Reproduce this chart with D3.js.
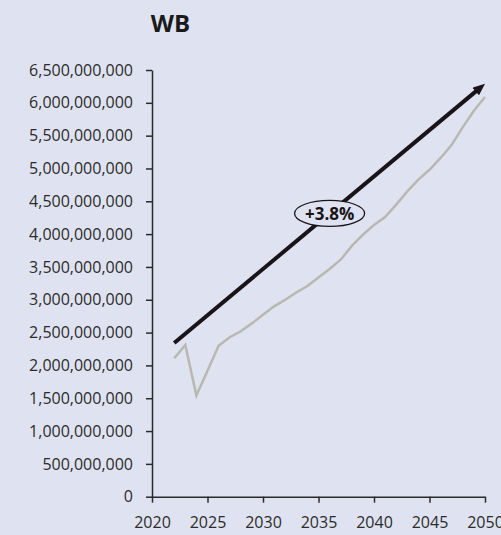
<!DOCTYPE html>
<html>
<head>
<meta charset="utf-8">
<script src="https://cdn.jsdelivr.net/npm/d3@7"></script>
<style>
  html, body { margin: 0; padding: 0; background: #dfe3f1; }
  svg { display: block; }
</style>
</head>
<body>
<div id="chart"></div>
<script>
const title = 'WB';
const years = [2022, 2023, 2024, 2025, 2026, 2027, 2028, 2029, 2030, 2031, 2032, 2033, 2034, 2035, 2036,
  2037, 2038, 2039, 2040, 2041, 2042, 2043, 2044, 2045, 2046, 2047, 2048, 2049, 2050];
const values = [2.11e9, 2.31e9, 1.54e9, 1.92e9, 2.30e9, 2.43e9, 2.52e9, 2.64e9, 2.77e9, 2.90e9, 3.00e9, 3.11e9,
  3.21e9, 3.34e9, 3.47e9, 3.61e9, 3.82e9, 3.99e9, 4.14e9, 4.26e9, 4.45e9, 4.65e9, 4.83e9, 4.98e9, 5.16e9,
  5.36e9, 5.63e9, 5.88e9, 6.09e9];
const trendYears = [2022, 2050];
const trendValues = [2.34e9, 6.29e9];
const trendLabel = '+3.8%';
const xTicks = [2020, 2025, 2030, 2035, 2040, 2045, 2050];
const yTicks = [0, 5e8, 1e9, 1.5e9, 2e9, 2.5e9, 3e9, 3.5e9, 4e9, 4.5e9, 5e9, 5.5e9, 6e9, 6.5e9];

const width = 501;
const height = 535;
const bg = '#dfe3f1';
const font = '"Open Sans", "Noto Sans", sans-serif';

const svg = d3
  .select('#chart')
  .append('svg')
  .attr('width', width)
  .attr('height', height)
  .style('background', bg);

const x = d3.scaleLinear().domain([2020, 2050]).range([152, 485]);
const y = d3.scaleLinear().domain([0, 6.5e9]).range([496.7, 70]);

// Title
svg
  .append('text')
  .attr('x', 170.5)
  .attr('y', 32)
  .attr('text-anchor', 'middle')
  .style('font-family', font)
  .style('font-weight', 'bold')
  .style('font-size', '24px')
  .style('fill', '#1a1a1a')
  .text(title);

// Axes
const yAxis = svg
  .append('g')
  .attr('transform', `translate(${x(2020)},0)`)
  .call(d3.axisLeft(y).tickValues(yTicks).tickFormat(d3.format(',')).tickSize(6).tickPadding(13).tickSizeOuter(0));

const xAxis = svg
  .append('g')
  .attr('transform', `translate(0,${y(0)})`)
  .call(d3.axisBottom(x).tickValues(xTicks).tickFormat(d3.format('d')).tickSize(6).tickPadding(14).tickSizeOuter(0));

[yAxis, xAxis].forEach((ax) => {
  ax.select('.domain').style('stroke', '#2a2a2a').style('stroke-width', '1.5px');
  ax.selectAll('.tick line').style('stroke', '#2a2a2a').style('stroke-width', '1.5px');
  ax.selectAll('.tick text')
    .style('font-family', font)
    .style('font-size', '16px')
    .style('fill', '#2b2b2b');
});

// Gray data line
const line = d3
  .line()
  .x((d, i) => x(years[i]))
  .y((d) => y(d));

svg
  .append('path')
  .datum(values)
  .attr('d', line)
  .style('fill', 'none')
  .style('stroke', '#b7b9b1')
  .style('stroke-width', '2.5px')
  .style('stroke-linejoin', 'miter');

// Trend arrow
svg
  .append('defs')
  .append('marker')
  .attr('id', 'head')
  .attr('markerUnits', 'userSpaceOnUse')
  .attr('viewBox', '0 0 12 10')
  .attr('refX', 12)
  .attr('refY', 5)
  .attr('markerWidth', 12)
  .attr('markerHeight', 10)
  .attr('orient', 'auto')
  .append('path')
  .attr('d', 'M0,0 L12,5 L0,10 Z')
  .style('fill', '#1a1418');

const x0 = x(trendYears[0]);
const y0 = y(trendValues[0]);
const x1 = x(trendYears[1]);
const y1 = y(trendValues[1]);
const len = Math.hypot(x1 - x0, y1 - y0);
const shorten = 8;

svg
  .append('line')
  .attr('x1', x0)
  .attr('y1', y0)
  .attr('x2', x1 - ((x1 - x0) / len) * shorten)
  .attr('y2', y1 - ((y1 - y0) / len) * shorten)
  .style('stroke', '#1a1418')
  .style('stroke-width', '4px');

svg
  .append('path')
  .attr('d', `M${x1 - ((x1 - x0) / len) * 12},${y1 - ((y1 - y0) / len) * 12} L${x1},${y1}`)
  .style('stroke', 'none')
  .attr('marker-end', 'url(#head)');

// Growth label
const midYear = (trendYears[0] + trendYears[1]) / 2;
const midValue = (trendValues[0] + trendValues[1]) / 2;
const label = svg.append('g').attr('transform', `translate(${x(midYear)},${y(midValue)})`);

label
  .append('ellipse')
  .attr('rx', 35)
  .attr('ry', 13)
  .style('fill', bg)
  .style('stroke', '#1a1418')
  .style('stroke-width', '1.3px');

label
  .append('text')
  .attr('text-anchor', 'middle')
  .attr('dy', '0.36em')
  .style('font-family', font)
  .style('font-weight', 'bold')
  .style('font-size', '17px')
  .style('fill', '#1a1418')
  .text(trendLabel);
</script>
</body>
</html>
